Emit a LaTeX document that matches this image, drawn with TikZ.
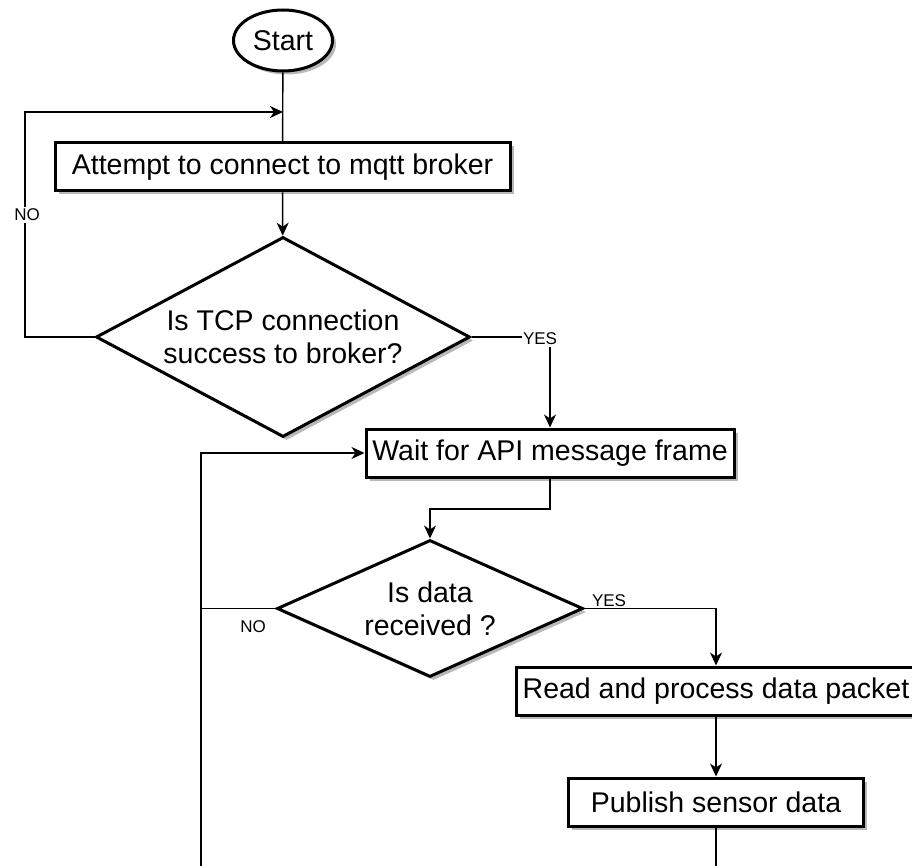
\documentclass[tikz,border=0pt]{standalone}
\usepackage{fontspec}
\setmainfont{Liberation Sans}
\usetikzlibrary{shapes.geometric,shadows,arrows.meta}
\begin{document}
\begin{tikzpicture}[x=1pt,y=-1pt,
  shade/.style={drop shadow={shadow xshift=3.5pt,shadow yshift=-3.5pt,fill=black,opacity=0.28}},
  stepbox/.style={draw,line width=3pt,fill=white,shade,rectangle,
    minimum height=48pt,inner sep=0pt,font=\fontsize{28.5}{32}\selectfont},
  decision/.style={draw,line width=3pt,fill=white,shade,diamond,
    inner sep=0pt,align=center,font=\fontsize{28.5}{33}\selectfont},
  terminal/.style={draw,line width=3pt,fill=white,shade,ellipse,
    inner sep=0pt,font=\fontsize{28.5}{32}\selectfont},
  flow/.style={line width=1.4pt,-{Stealth[length=13pt,width=12pt,inset=4pt]}},
  link/.style={line width=1.4pt},
  tag/.style={font=\fontsize{17}{20}\selectfont,inner sep=1.5pt}
]
\clip (0,0) rectangle (912,866);
\fill[white] (0,0) rectangle (912,866);

% shapes
\node[terminal,minimum width=99pt,minimum height=61pt] (start) at (283,40.5) {Start};
\node[stepbox,minimum width=455pt] (connect) at (282.5,167) {Attempt to connect to mqtt broker};
\node[decision,aspect=1.87,minimum width=374pt,minimum height=200pt] (tcp) at (283,337)
  {Is TCP connection\\success to broker?};
\node[stepbox,minimum width=368pt] (wait) at (550,453) {Wait for API message frame};
\node[decision,aspect=2.23,minimum width=306pt,minimum height=137pt] (recv) at (430,608.5)
  {Is data\\received ?};
\node[stepbox,minimum width=400pt] (read) at (716,691) {Read and process data packet};
\node[stepbox,minimum width=295pt] (pub) at (716,802) {Publish sensor data};

% junction and routing points
\coordinate (retry) at (283,112);
\coordinate (leftrail) at (25,112);
\coordinate (yesturn) at (550,337);
\coordinate (mid) at (430,509);
\coordinate (loopleft) at (201,608.5);
\coordinate (loopbottom) at (201,900);

% connectors
\draw[link] (start) -- (connect);
\draw[flow] (connect) -- (tcp);
\draw[flow] (tcp.west) -| (leftrail) -- (retry);
\draw[flow] (tcp.east) -- (yesturn) -- (wait.north);
\draw[flow] (wait.south) |- (mid) -- (recv.north);
\draw[flow] (recv.east) -| (read.north);
\draw[flow] (read) -- (pub);
\draw[link] (recv.west) -- (loopleft);
\draw[flow] (pub.south) |- (loopbottom) -- (loopleft |- wait.west) -- (wait.west);

% edge labels
\node[tag,fill=white] (no1) at (27,215) {NO};
\node[tag,fill=white] (yes1) at (540,339) {YES};
\node[tag] (yes2) at (609,601) {YES};
\node[tag] (no2) at (253,627) {NO};
\end{tikzpicture}
\end{document}
